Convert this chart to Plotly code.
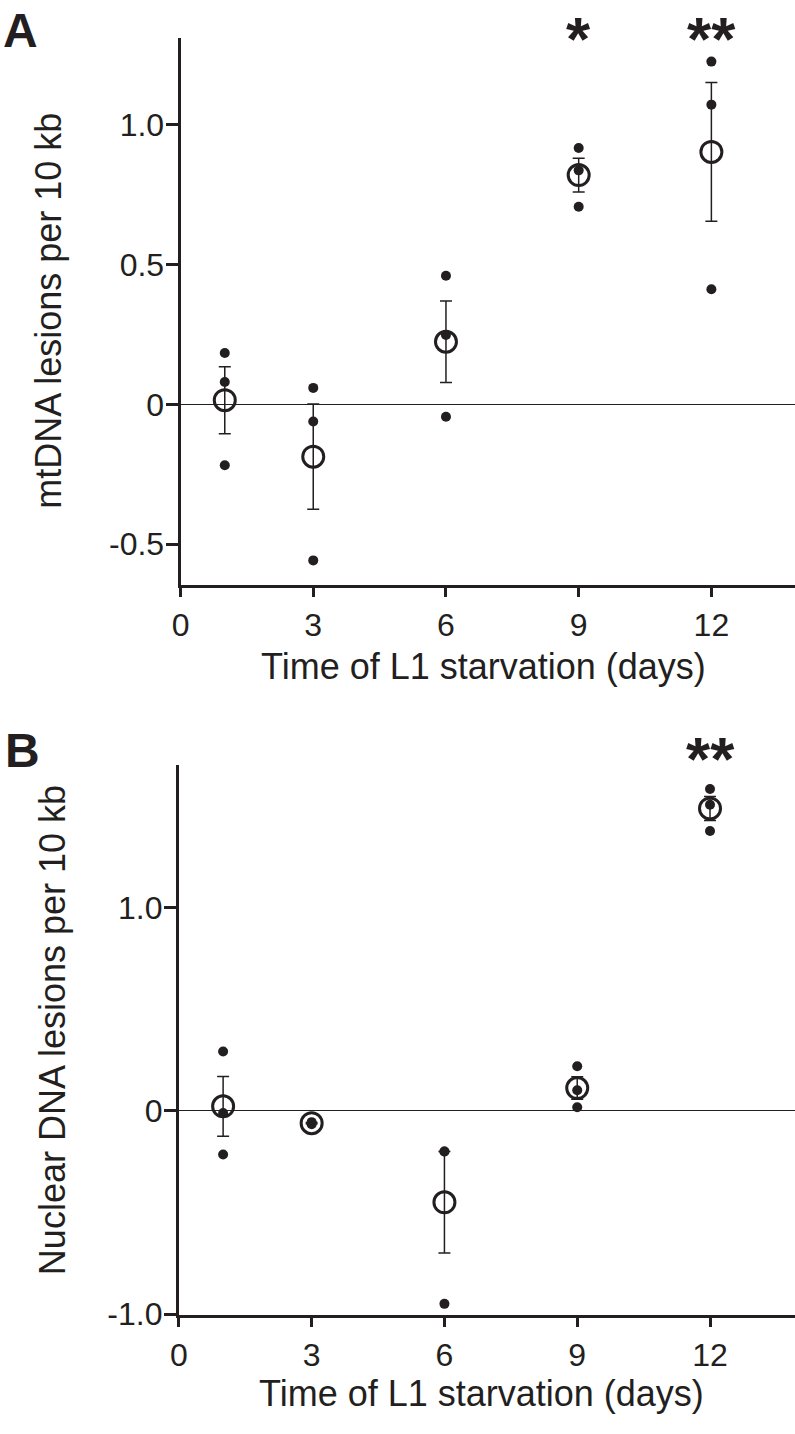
import plotly.graph_objects as go

# ---------------- data ----------------
days = [1, 3, 6, 9, 12]
x_ticks = [0, 3, 6, 9, 12]
x_ticktext = ["0", "3", "6", "9", "12"]

# Panel A: mtDNA lesions per 10 kb
mt_points_day = [1, 1, 1, 3, 3, 3, 6, 6, 6, 9, 9, 9, 12, 12, 12]
mt_points_val = [0.184, 0.080, -0.218,
                 0.059, -0.061, -0.558,
                 0.460, 0.248, -0.044,
                 0.917, 0.837, 0.707,
                 1.226, 1.072, 0.412]
mt_mean = [0.015, -0.187, 0.224, 0.820, 0.903]
mt_sem = [0.120, 0.188, 0.146, 0.060, 0.248]
mt_yticks = [-0.5, 0, 0.5, 1.0]
mt_yticktext = ["-0.5", "0", "0.5", "1.0"]
mt_sig_days = [9, 12]
mt_sig_text = ["*", "**"]

# Panel B: nuclear DNA lesions per 10 kb
nu_points_day = [1, 1, 1, 3, 3, 3, 6, 6, 6, 9, 9, 9, 12, 12, 12]
nu_points_val = [0.293, -0.010, -0.214,
                 -0.055, -0.060, -0.065,
                 -0.200, -0.200, -0.950,
                 0.220, 0.102, 0.018,
                 1.586, 1.508, 1.379]
nu_mean = [0.023, -0.060, -0.450, 0.113, 1.490]
nu_sem = [0.147, 0.003, 0.250, 0.055, 0.059]
nu_yticks = [-1.0, 0, 1.0]
nu_yticktext = ["-1.0", "0", "1.0"]
nu_sig_days = [12]
nu_sig_text = ["**"]

# ---------------- style ----------------
INK = "#231f20"
FONT = "Liberation Sans, Arial, Helvetica, sans-serif"
W, H = 795, 1434


def px_x(p):
    return p / W


def px_y(p):
    return 1 - p / H


fig = go.Figure()


def add_panel(xa, ya, pd, pv, mean, sem):
    fig.add_trace(go.Scatter(
        x=days, y=mean, mode="markers", xaxis=xa, yaxis=ya,
        marker=dict(symbol="circle-open", size=21, color=INK,
                    line=dict(width=3, color=INK)),
        error_y=dict(type="data", array=sem, visible=True, color=INK,
                     thickness=1.5, width=6),
        cliponaxis=False, showlegend=False))
    fig.add_trace(go.Scatter(
        x=pd, y=pv, mode="markers", xaxis=xa, yaxis=ya,
        marker=dict(symbol="circle", size=10, color=INK),
        cliponaxis=False, showlegend=False))


add_panel("x", "y", mt_points_day, mt_points_val, mt_mean, mt_sem)
add_panel("x2", "y2", nu_points_day, nu_points_val, nu_mean, nu_sem)

xcommon = dict(tickmode="array", tickvals=x_ticks, ticktext=x_ticktext,
               showline=True, linewidth=3, linecolor=INK,
               ticks="outside", ticklen=9, tickwidth=2.5, tickcolor=INK,
               showgrid=False, zeroline=False,
               tickfont=dict(family=FONT, size=32, color=INK))
ycommon = dict(tickmode="array", showline=True, linewidth=3, linecolor=INK,
               ticks="outside", ticklen=12, tickwidth=2.5, tickcolor=INK,
               showgrid=False, zeroline=True, zerolinewidth=1.3,
               zerolinecolor=INK, ticklabelstandoff=-5,
               tickfont=dict(family=FONT, size=32, color=INK))

fig.update_layout(
    width=W, height=H, margin=dict(l=0, r=0, t=0, b=0),
    paper_bgcolor="white", plot_bgcolor="white",
    xaxis=dict(xcommon, domain=[px_x(173.5), 1], range=[0, 13.89],
               anchor="y"),
    yaxis=dict(ycommon, domain=[px_y(592.3), px_y(38)], range=[-0.647, 1.312],
               tickvals=mt_yticks, ticktext=mt_yticktext, anchor="x"),
    xaxis2=dict(xcommon, domain=[px_x(171.8), 1], range=[0, 13.92],
                anchor="y2"),
    yaxis2=dict(ycommon, domain=[px_y(1331), px_y(774)], range=[-1.006, 1.705],
                tickvals=nu_yticks, ticktext=nu_yticktext, anchor="x2"),
)

ann = []
# panel letters
ann.append(dict(text="<b>A</b>", x=px_x(-8), y=px_y(2), xref="paper", yref="paper",
                xanchor="left", yanchor="top", showarrow=False,
                font=dict(family=FONT, size=48, color=INK)))
ann.append(dict(text="<b>B</b>", x=px_x(-6), y=px_y(731), xref="paper", yref="paper",
                xanchor="left", yanchor="top", showarrow=False,
                font=dict(family=FONT, size=48, color=INK)))
# axis titles
ann.append(dict(text="mtDNA lesions per 10 kb", x=px_x(40), y=px_y(315),
                xref="paper", yref="paper", textangle=-90, showarrow=False,
                xanchor="center", yanchor="middle",
                font=dict(family=FONT, size=36, color=INK)))
ann.append(dict(text="Nuclear DNA lesions per 10 kb", x=px_x(44), y=px_y(1043),
                xref="paper", yref="paper", textangle=-90, showarrow=False,
                xanchor="center", yanchor="middle",
                font=dict(family=FONT, size=36, color=INK)))
ann.append(dict(text="Time of L1 starvation (days)", x=px_x(480), y=px_y(674),
                xref="paper", yref="paper", showarrow=False,
                xanchor="center", yanchor="middle",
                font=dict(family=FONT, size=36, color=INK)))
ann.append(dict(text="Time of L1 starvation (days)", x=px_x(478), y=px_y(1410),
                xref="paper", yref="paper", showarrow=False,
                xanchor="center", yanchor="middle",
                font=dict(family=FONT, size=36, color=INK)))
# significance stars
for d, t in zip(mt_sig_days, mt_sig_text):
    ann.append(dict(text="<b>" + t + "</b>", x=d, y=px_y(2), xref="x", yref="paper",
                    showarrow=False, xanchor="center", yanchor="top",
                    font=dict(family=FONT, size=62, color=INK)))
for d, t in zip(nu_sig_days, nu_sig_text):
    ann.append(dict(text="<b>" + t + "</b>", x=d, y=px_y(731), xref="x2", yref="paper",
                    showarrow=False, xanchor="center", yanchor="top",
                    font=dict(family=FONT, size=62, color=INK)))

fig.update_layout(annotations=ann)
fig.write_html(
    "out.html",
    config={"displayModeBar": False},
    post_script=(
        "document.documentElement.style.margin='0';"
        "document.documentElement.style.overflow='hidden';"
        "document.documentElement.style.height='1434px';"
        "document.body.style.margin='0';"
        "document.body.style.overflow='hidden';"
        "document.body.style.height='1434px';"
    ),
)
